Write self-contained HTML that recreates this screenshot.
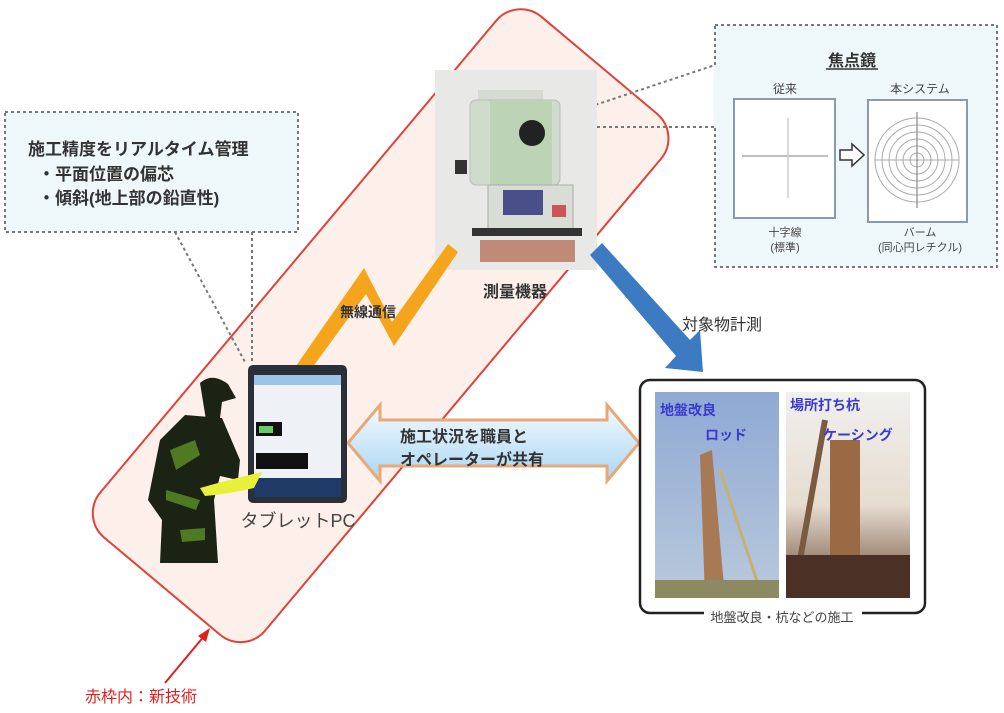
<!DOCTYPE html>
<html><head><meta charset="utf-8"><style>
html,body{margin:0;padding:0;background:#fff}
svg{display:block}
text{font-family:"Liberation Sans","Noto Sans CJK JP",sans-serif}
</style></head><body>
<svg width="1004" height="713" viewBox="0 0 1004 713" xmlns="http://www.w3.org/2000/svg">
<defs>
<linearGradient id="dbl" x1="0" y1="0" x2="0" y2="1"><stop offset="0" stop-color="#f4fbff"/><stop offset="1" stop-color="#a9d6f3"/></linearGradient>
<linearGradient id="sky" x1="0" y1="0" x2="0" y2="1"><stop offset="0" stop-color="#8fa9d4"/><stop offset="1" stop-color="#b9c9dc"/></linearGradient>
<linearGradient id="sky2" x1="0" y1="0" x2="0" y2="1"><stop offset="0" stop-color="#f0f0ee"/><stop offset="0.55" stop-color="#e6dcd0"/><stop offset="1" stop-color="#6b4a35"/></linearGradient>
</defs>

<rect x="41" y="218" width="680" height="215" rx="32" transform="rotate(-50 381 326)" fill="#fdf0ea" stroke="#e0413a" stroke-width="2"/>

<path d="M175 232 L245 362 M252 232 L252 362" stroke="#777" stroke-width="2" stroke-dasharray="3 3" fill="none"/>
<rect x="5" y="112" width="293" height="120" fill="#eef8fa" stroke="#777" stroke-width="2" stroke-dasharray="3 3"/>
<text x="28" y="155" font-size="17" font-weight="bold" fill="#333">施工精度をリアルタイム管理</text>
<text x="38" y="180" font-size="17" font-weight="bold" fill="#333">・平面位置の偏芯</text>
<text x="38" y="204" font-size="17" font-weight="bold" fill="#333">・傾斜(地上部の鉛直性)</text>

<rect x="715" y="25" width="282" height="242" fill="#eef8fa" stroke="#777" stroke-width="2" stroke-dasharray="3 3"/>
<path d="M550 120 L715 65 M555 127 L715 127" stroke="#777" stroke-width="2" stroke-dasharray="3 3" fill="none"/>
<line x1="715" y1="66" x2="715" y2="126" stroke="#eef8fa" stroke-width="3"/>
<text x="852" y="66" font-size="16" font-weight="bold" fill="#333" text-anchor="middle">焦点鏡</text>
<line x1="826" y1="69" x2="878" y2="69" stroke="#333" stroke-width="1.5"/>
<text x="785" y="93" font-size="12" fill="#444" text-anchor="middle">従来</text>
<text x="920" y="93" font-size="12" fill="#444" text-anchor="middle">本システム</text>
<rect x="734" y="99" width="101" height="119" fill="#fff" stroke="#8a9bb0" stroke-width="2"/>
<line x1="742" y1="156" x2="828" y2="156" stroke="#aaa" stroke-width="1.5"/>
<line x1="788" y1="118" x2="788" y2="198" stroke="#ccc" stroke-width="1.5"/>
<path d="M840 150 L852 150 L852 144 L864 155 L852 166 L852 160 L840 160 Z" fill="#fff" stroke="#333" stroke-width="1.5"/>
<rect x="868" y="100" width="99" height="122" fill="#fff" stroke="#8a9bb0" stroke-width="2"/>
<g fill="none" stroke="#aaa" stroke-width="1">
<circle cx="917" cy="160" r="42"/><circle cx="917" cy="160" r="35"/><circle cx="917" cy="160" r="28"/><circle cx="917" cy="160" r="21"/><circle cx="917" cy="160" r="14"/><circle cx="917" cy="160" r="7"/>
<line x1="875" y1="160" x2="959" y2="160"/></g>
<line x1="917" y1="112" x2="917" y2="208" stroke="#888" stroke-width="1.2"/>
<text x="785" y="236" font-size="11" fill="#444" text-anchor="middle">十字線</text>
<text x="785" y="251" font-size="11" fill="#444" text-anchor="middle">(標準)</text>
<text x="920" y="236" font-size="11" fill="#444" text-anchor="middle">バーム</text>
<text x="920" y="251" font-size="11" fill="#444" text-anchor="middle">(同心円レチクル)</text>

<rect x="435" y="70" width="162" height="200" fill="#e8e8e6"/>
<rect x="478" y="90" width="65" height="10" fill="#d6dad2"/>
<rect x="470" y="100" width="90" height="85" rx="6" fill="#cfdccb" stroke="#bbb"/>
<rect x="490" y="100" width="62" height="85" fill="#bcd3b6"/>
<circle cx="532" cy="133" r="13" fill="#222"/>
<rect x="455" y="160" width="12" height="14" fill="#333"/>
<rect x="488" y="185" width="85" height="45" fill="#d8ddd6" stroke="#aaa"/>
<rect x="503" y="190" width="40" height="25" fill="#4a4f8a"/>
<rect x="552" y="205" width="14" height="12" fill="#c55"/>
<rect x="472" y="228" width="110" height="8" fill="#333"/>
<rect x="480" y="240" width="95" height="22" fill="#c08a78"/>
<text x="515" y="297" font-size="16" font-weight="bold" fill="#333" text-anchor="middle">測量機器</text>

<path d="M296 366 L364 268 L392 322 L448 244 L458 252 L394 346 L366 294 L312 368 Z" fill="#f5a51c"/>
<text x="368" y="317" font-size="14" font-weight="bold" fill="#333" text-anchor="middle">無線通信</text>

<path d="M590 255 L602 243 L690 340 L700 330 L703 372 L665 368 L676 356 Z" fill="#3c7ac2"/>
<text x="722" y="330" font-size="16" fill="#333" text-anchor="middle">対象物計測</text>

<path d="M348 443 L380 405 L380 420 L607 420 L607 405 L639 443 L607 481 L607 466 L380 466 L380 481 Z" fill="url(#dbl)" stroke="#e8a877" stroke-width="3"/>
<text x="400" y="442" font-size="16" font-weight="bold" fill="#333">施工状況を職員と</text>
<text x="400" y="465" font-size="16" font-weight="bold" fill="#333">オペレーターが共有</text>

<rect x="248" y="365" width="99" height="138" rx="5" fill="#2b2f38"/>
<rect x="254" y="375" width="87" height="103" fill="#eef1f5"/>
<rect x="254" y="375" width="87" height="10" fill="#9cc4e6"/>
<rect x="256" y="422" width="26" height="14" fill="#111"/>
<rect x="259" y="426" width="14" height="7" fill="#6c6"/>
<rect x="256" y="453" width="52" height="16" fill="#111"/>
<rect x="254" y="478" width="87" height="19" fill="#1e3a66"/>
<text x="298" y="527" font-size="18" fill="#444" text-anchor="middle">タブレットPC</text>

<g fill="#1b2414">
<path d="M200 383 Q212 372 228 384 L236 398 L222 402 L220 418 L206 420 Z"/>
<path d="M185 415 L222 418 L240 460 L238 480 L220 476 L214 500 L218 563 L160 563 L162 520 L148 500 L160 440 Z"/>
</g>
<path d="M170 450 L195 440 L200 455 L176 470 Z M166 490 L200 500 L196 510 L166 500 Z M180 530 L205 528 L205 540 L182 542 Z" fill="#4f7a22"/>
<path d="M200 488 Q235 478 262 472 L254 488 Q228 494 205 496 Z" fill="#e8f03a"/>

<rect x="640" y="380" width="285" height="233" rx="10" fill="#fff" stroke="#222" stroke-width="2.5"/>
<rect x="704" y="605" width="158" height="14" fill="#fff"/>
<text x="782" y="622" font-size="13" fill="#444" text-anchor="middle">地盤改良・杭などの施工</text>
<rect x="655" y="392" width="124" height="206" fill="url(#sky)"/>
<path d="M700 455 L712 450 L725 598 L705 598 Z" fill="#a77a55"/>
<line x1="720" y1="470" x2="760" y2="590" stroke="#c9b070" stroke-width="3"/>
<rect x="655" y="580" width="124" height="18" fill="#8b8a60"/>
<rect x="786" y="392" width="124" height="206" fill="url(#sky2)"/>
<rect x="830" y="440" width="30" height="120" fill="#9a6a45"/>
<line x1="800" y1="560" x2="825" y2="420" stroke="#7a5a40" stroke-width="6"/>
<rect x="786" y="555" width="124" height="43" fill="#4a3025"/>
<text x="660" y="415" font-size="14" font-weight="bold" fill="#3a3ad0">地盤改良</text>
<text x="705" y="440" font-size="14" font-weight="bold" fill="#3a3ad0">ロッド</text>
<text x="790" y="410" font-size="14" font-weight="bold" fill="#3a3ad0">場所打ち杭</text>
<text x="823" y="440" font-size="14" font-weight="bold" fill="#3a3ad0">ケーシング</text>

<line x1="165" y1="683" x2="205" y2="635" stroke="#e02020" stroke-width="2"/>
<path d="M210 628 L198 636 L206 642 Z" fill="#e02020"/>
<text x="85" y="702" font-size="16" fill="#e02020">赤枠内：新技術</text>
</svg>
</body></html>
